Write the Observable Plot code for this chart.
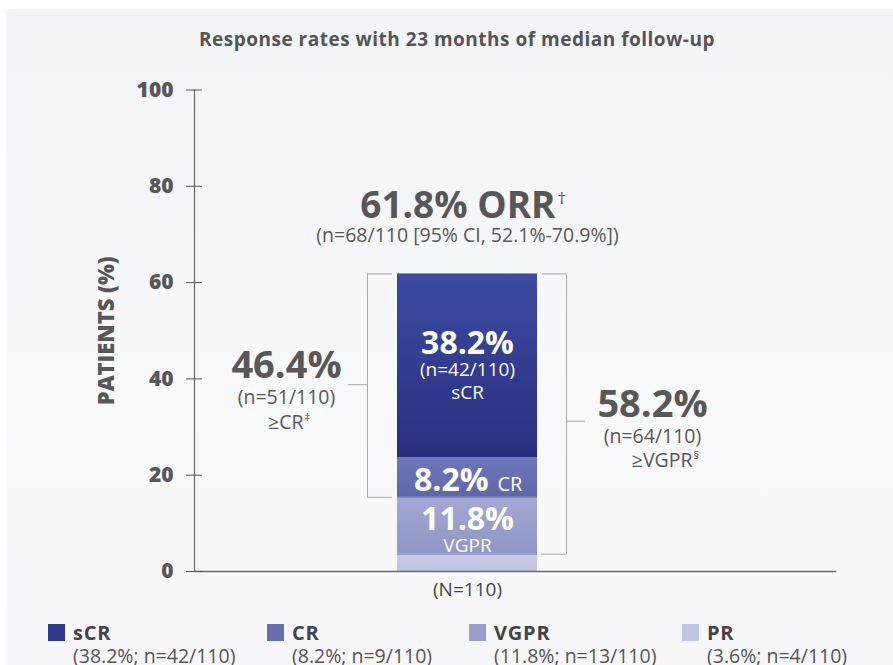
<!DOCTYPE html>
<html>
<head>
<meta charset="utf-8">
<script src="https://cdn.jsdelivr.net/npm/d3@7"></script>
<script src="https://cdn.jsdelivr.net/npm/@observablehq/plot@0.6"></script>
<style>
  html, body { margin: 0; padding: 0; }
  body { width: 893px; height: 665px; overflow: hidden; background: #fff; position: relative;
         font-family: "Open Sans", sans-serif; }
  #panel { position: absolute; left: 6px; top: 9px; right: 0; bottom: 0;
           background: linear-gradient(#f3f4f8, #f8f9fb 60%, #f7f7fa); }
  #title { position: absolute; top: 30px; left: 457px; transform: translateX(-50%); white-space: nowrap;
           font-size: 19px; line-height: 18px; font-weight: 700; color: #555; letter-spacing: 0.5px; }
  #chart { position: absolute; left: 0; top: 60px; }
  .item { position: absolute; top: 622px; line-height: 22px; white-space: nowrap; }
  .sw { position: absolute; left: 0; top: 2px; width: 17px; height: 17px; }
  .nm { position: absolute; left: 25px; top: 0; font-size: 20px; font-weight: 700; color: #444; letter-spacing: 0.8px; }
  .sb { position: absolute; left: 25px; top: 23px; font-size: 19.5px; color: #555; }
</style>
</head>
<body>
<div id="panel"></div>
<div id="title">Response rates with 23 months of median follow-up</div>
<div id="chart"></div>
<div id="legend"></div>
<script>
// ---- data ----
const group = "(N=110)";
const total = 110;
const responses = ["PR", "VGPR", "CR", "sCR"];     // bottom to top
const rates = [3.6, 11.8, 8.2, 38.2];                // % of patients
const counts = [4, 13, 9, 42];
const yTicks = [0, 20, 40, 60, 80, 100];
const orrRate = 61.8, orrN = 68, orrCI = "52.1%-70.9%";
const geCRRate = 46.4, geCRN = 51, geCRTick = 38.8;
const geVGPRRate = 58.2, geVGPRN = 64, geVGPRTick = 31.2;

// ---- styles ----
const fills = ["url(#gPR)", "url(#gVGPR)", "url(#gCR)", "url(#gSCR)"];
const grads = [["gPR", "#c6cae4", "#bfc3df"], ["gVGPR", "#a3a9d2", "#9096c6"],
               ["gCR", "#6d78b8", "#5d66aa"], ["gSCR", "#3b4ba0", "#2b2e7f"]];
const swatch = {sCR: "#2f3a8d", CR: "#6670b1", VGPR: "#9aa0cb", PR: "#c3c6e2"};
const gray = "#575757";
const lineGray = "#a9a9ad";

const data = responses.map((r, i) => ({group, response: r, rate: rates[i], n: counts[i]}));
const ends = d3.cumsum(rates);
const starts = rates.map((r, i) => ends[i] - r);
const mid = i => starts[i] + rates[i] / 2;
const barTop = ends[ends.length - 1];
const iCR = responses.indexOf("CR"), iVG = responses.indexOf("VGPR"), iS = responses.indexOf("sCR");

const one = [{group}];
const T = (text, y, o) => Plot.text(one, {x: "group", y: () => y, text: () => text, lineAnchor: "bottom", ...o});

const defs = () => {
  const d = d3.create("svg:defs");
  for (const [id, a, b] of grads) {
    const g = d.append("linearGradient").attr("id", id).attr("x1", 0).attr("x2", 0).attr("y1", 0).attr("y2", 1);
    g.append("stop").attr("offset", "0%").attr("stop-color", a);
    g.append("stop").attr("offset", "100%").attr("stop-color", b);
  }
  return d.node();
};

const bracketL = {from: starts[iCR], to: barTop};
const bracketR = {from: starts[iVG], to: barTop};

const chart = Plot.plot({
  width: 893, height: 550,
  marginLeft: 194, marginRight: 58, marginTop: 29.5, marginBottom: 39,
  style: {background: "transparent", fontFamily: "'Open Sans', sans-serif"},
  x: {domain: [group], padding: 0.6415, align: 0.405},
  y: {domain: [0, 100]},
  color: {domain: responses, range: fills},
  marks: [
    defs,
    Plot.barY(data, {x: "group", y: "rate", fill: "response"}),
    Plot.tickY([ends[0], ends[1]], {x: () => group, y: d => d, stroke: "#7f86bd", strokeWidth: 1}),
    // brackets
    Plot.ruleX(one, {x: "group", y1: () => bracketL.from, y2: () => bracketL.to, dx: -100, stroke: lineGray}),
    Plot.tickY([bracketL.from, bracketL.to], {x: () => group, y: d => d, insetLeft: -30, insetRight: 145, stroke: lineGray}),
    Plot.tickY([geCRTick], {x: () => group, y: d => d, insetLeft: -49, insetRight: 170, stroke: lineGray}),
    Plot.ruleX(one, {x: "group", y1: () => bracketR.from, y2: () => bracketR.to, dx: 99, stroke: lineGray}),
    Plot.tickY([bracketR.from, bracketR.to], {x: () => group, y: d => d, insetLeft: 144, insetRight: -29, stroke: lineGray}),
    Plot.tickY([geVGPRTick], {x: () => group, y: d => d, insetLeft: 169, insetRight: -48, stroke: lineGray}),
    // axes
    Plot.frame({anchor: "left", stroke: "#6b6b6b", strokeWidth: 1.2}),
    Plot.frame({anchor: "bottom", stroke: "#6b6b6b", strokeWidth: 1.6}),
    Plot.axisY({ticks: yTicks, tickSize: 16, dx: 8, tickPadding: 13, fontSize: 21, fontWeight: 800,
                color: gray, letterSpacing: 1, label: null}),
    Plot.axisX({tickSize: 0, tickPadding: 11, fontSize: 19, color: "#444", label: null}),
    Plot.text(["PATIENTS (%)"], {frameAnchor: "left", textAnchor: "middle", rotate: -90, dx: -88,
                                 fontSize: 22, fontWeight: 800, fill: gray, letterSpacing: 1.2}),
    // bar labels
    T(`${rates[iS]}%`, mid(iS), {dy: -12, fontSize: 32, fontWeight: "bold", fill: "#fff", letterSpacing: 1.5}),
    T(`(n=${counts[iS]}/${total})`, mid(iS), {dy: 10, fontSize: 19, fill: "#fff"}),
    T("sCR", mid(iS), {dy: 33, fontSize: 19, fill: "#fff", letterSpacing: 0.5}),
    T(`${rates[iCR]}%`, mid(iCR), {dy: 13, dx: 21, textAnchor: "end", fontSize: 32, fontWeight: "bold", fill: "#fff", letterSpacing: 1.5}),
    T("CR", mid(iCR), {dy: 13, dx: 30, textAnchor: "start", fontSize: 20, fill: "#fff"}),
    T(`${rates[iVG]}%`, mid(iVG), {dy: 4, fontSize: 32, fontWeight: "bold", fill: "#fff", letterSpacing: 1.5}),
    T("VGPR", mid(iVG), {dy: 26, fontSize: 19, fill: "#fff"}),
    // ORR
    T(`${orrRate}% ORR`, barTop, {dy: -56, dx: 88, textAnchor: "end", fontSize: 37, fontWeight: "bold", fill: gray, letterSpacing: 1.3}),
    T("†", barTop, {dy: -70, dx: 90, textAnchor: "start", fontSize: 17, fill: gray}),
    T(`(n=${orrN}/${total} [95% CI, ${orrCI}])`, barTop, {dy: -32, fontSize: 19.5, fill: gray, letterSpacing: 0.2}),
    // >=CR
    T(`${geCRRate}%`, geCRTick, {dy: -7, dx: -181, fontSize: 38, fontWeight: "bold", fill: gray, letterSpacing: 1.5}),
    T(`(n=${geCRN}/${total})`, geCRTick, {dy: 19, dx: -181, fontSize: 19.5, fill: gray}),
    T("≥CR", geCRTick, {dy: 44, dx: -164, textAnchor: "end", fontSize: 19.5, fill: gray}),
    T("‡", geCRTick, {dy: 36, dx: -163, textAnchor: "start", fontSize: 11, fill: gray}),
    // >=VGPR
    T(`${geVGPRRate}%`, geVGPRTick, {dy: -4, dx: 185, fontSize: 38, fontWeight: "bold", fill: gray, letterSpacing: 1.5}),
    T(`(n=${geVGPRN}/${total})`, geVGPRTick, {dy: 22, dx: 185, fontSize: 19.5, fill: gray}),
    T("≥VGPR", geVGPRTick, {dy: 46, dx: 225, textAnchor: "end", fontSize: 19.5, fill: gray}),
    T("§", geVGPRTick, {dy: 38, dx: 226, textAnchor: "start", fontSize: 11, fill: gray})
  ]
});
document.getElementById("chart").appendChild(chart);

// ---- legend ----
const legendOrder = ["sCR", "CR", "VGPR", "PR"];
const legendLeft = [48, 267, 469, 682];
const legend = document.getElementById("legend");
legendOrder.forEach((r, k) => {
  const i = responses.indexOf(r);
  const it = document.createElement("div");
  it.className = "item";
  it.style.left = legendLeft[k] + "px";
  it.innerHTML = `<div class="sw" style="background:${swatch[r]}"></div>
    <div class="nm">${r}</div>
    <div class="sb">(${rates[i]}%; n=${counts[i]}/${total})</div>`;
  legend.appendChild(it);
});
</script>
</body>
</html>
